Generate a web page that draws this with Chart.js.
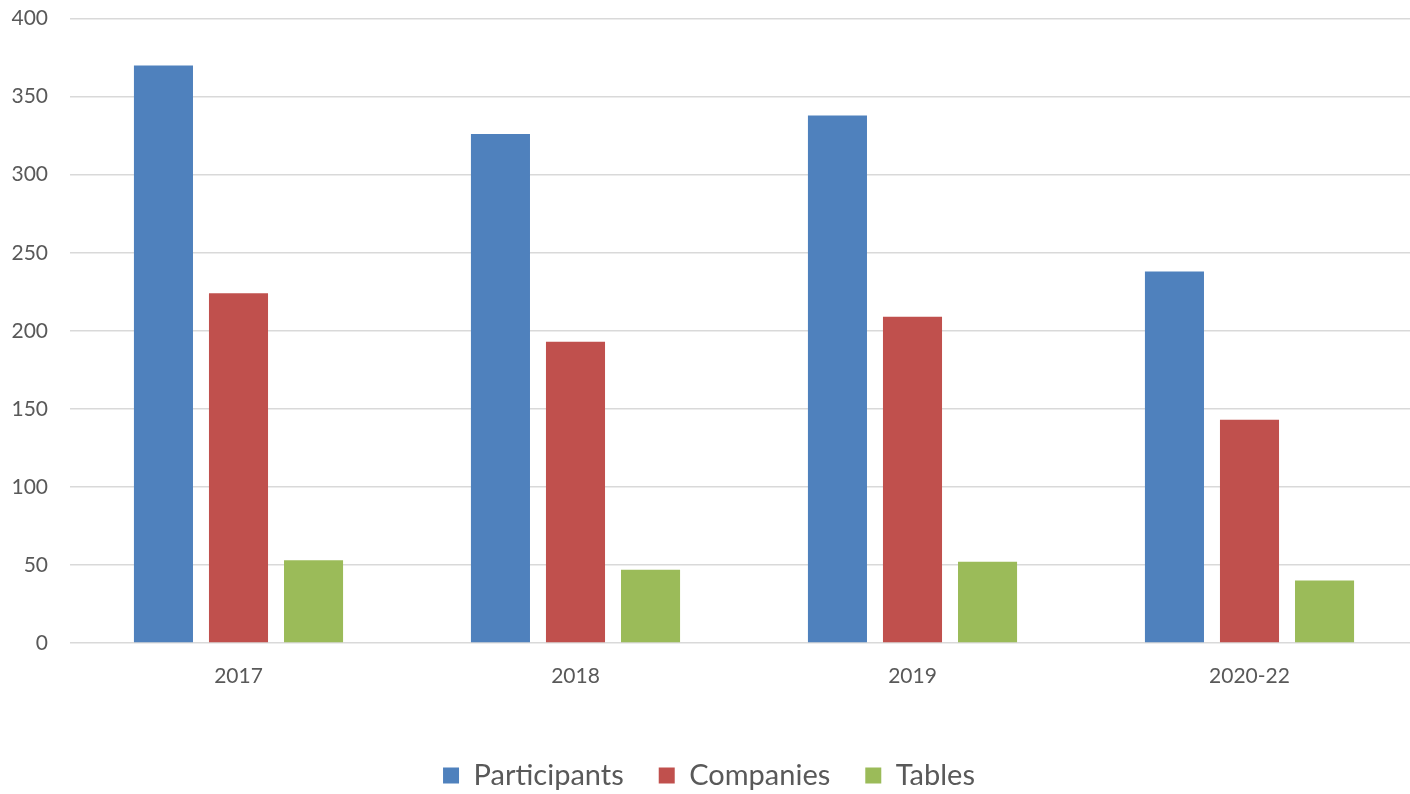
<!DOCTYPE html>
<html>
<head>
<meta charset="utf-8">
<script src="https://cdn.jsdelivr.net/npm/chart.js@4"></script>
<style>
  html, body { margin: 0; padding: 0; background: #fff; overflow: hidden; }
  #wrap { width: 1418px; height: 816px; margin-top: -16px; }
</style>
</head>
<body>
<div id="wrap"><canvas id="myChart"></canvas></div>
<script>
var years = ["2017", "2018", "2019", "2020-22"];
var participants = [370, 326, 338, 238];
var companies = [224, 193, 209, 143];
var tables = [53, 47, 52, 40];
var yTicks = [0, 50, 100, 150, 200, 250, 300, 350, 400];

var font = "Lato, 'Open Sans', sans-serif";
var textColor = "#595959";

Chart.defaults.font.family = font;
Chart.defaults.color = textColor;

var ctx = document.getElementById("myChart").getContext("2d");
var chart = new Chart(ctx, {
  type: "bar",
  data: {
    labels: years,
    datasets: [
      { label: "Participants", data: participants, backgroundColor: "#4f81bd" },
      { label: "Companies", data: companies, backgroundColor: "#c0504d" },
      { label: "Tables", data: tables, backgroundColor: "#9bbb59" }
    ]
  },
  options: {
    responsive: true,
    maintainAspectRatio: false,
    animation: false,
    layout: { padding: 0 },
    datasets: {
      bar: { categoryPercentage: 0.668, barPercentage: 0.787 }
    },
    plugins: {
      tooltip: { enabled: false },
      legend: {
        position: "bottom",
        labels: {
          font: { size: 29 },
          color: textColor,
          boxWidth: 16,
          boxHeight: 16,
          padding: 35
        }
      }
    },
    scales: {
      x: {
        grid: { display: false },
        border: { display: false },
        ticks: { font: { size: 21 }, color: textColor, padding: 13 },
        afterFit: function (axis) { axis.height = 83; }
      },
      y: {
        min: 0,
        max: 400,
        afterBuildTicks: function (axis) {
          axis.ticks = yTicks.map(function (v) { return { value: v }; });
        },
        grid: { color: "#d9d9d9", lineWidth: 1.5, drawTicks: false },
        border: { display: false },
        ticks: { font: { size: 21 }, color: textColor, padding: 22 },
        afterFit: function (axis) { axis.width = 70; }
      }
    }
  }
});
</script>
</body>
</html>
